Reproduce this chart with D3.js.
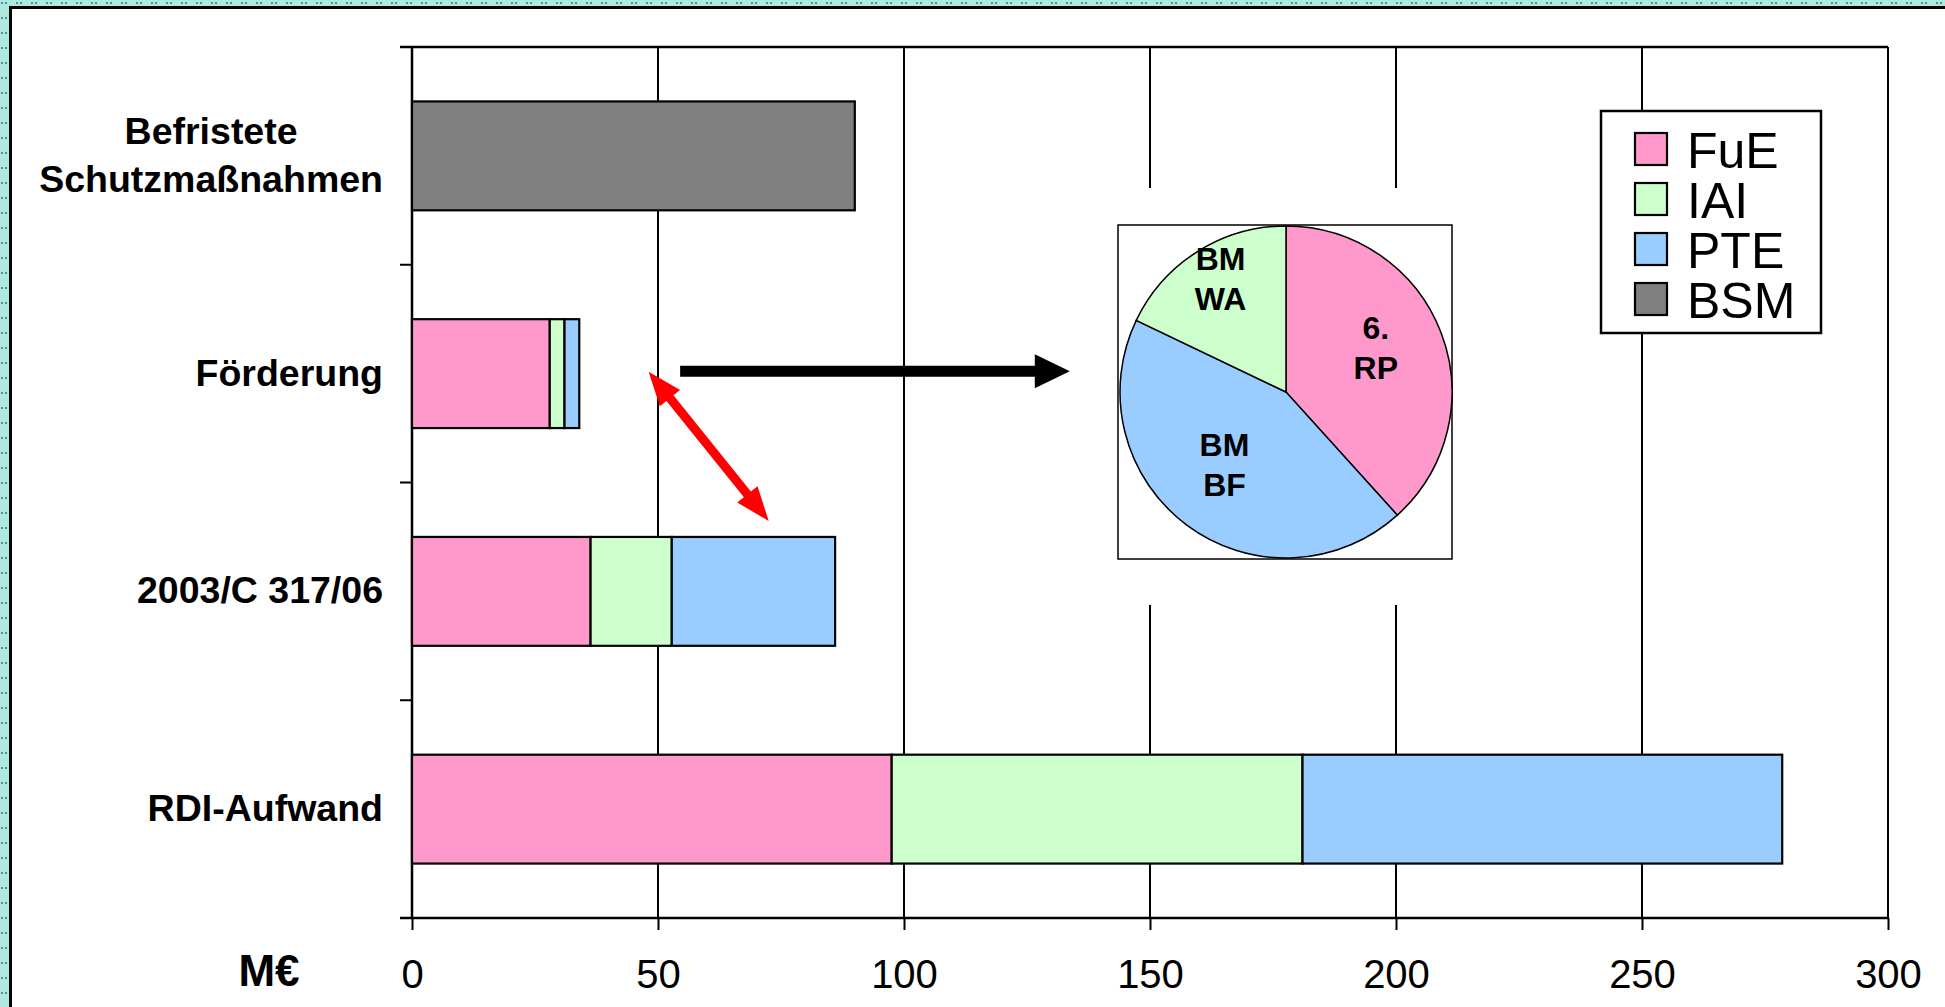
<!DOCTYPE html>
<html>
<head>
<meta charset="utf-8">
<script src="https://cdn.jsdelivr.net/npm/d3@7/dist/d3.min.js"></script>
<style>
html,body{margin:0;padding:0;background:#fff;overflow:hidden;}
svg{display:block;font-family:"Liberation Sans",Arial,sans-serif;}
</style>
</head>
<body>
<svg id="chart" width="1945" height="1007"></svg>
<script>
// ---- data ----
const categories = ["Befristete\nSchutzmaßnahmen", "Förderung", "2003/C 317/06", "RDI-Aufwand"];
const seriesNames = ["FuE", "IAI", "PTE", "BSM"];
const FuE = [0, 28, 36.3, 97.5];
const IAI = [0, 3, 16.5, 83.5];
const PTE = [0, 3, 33.2, 97.5];
const BSM = [90, 0, 0, 0];
const seriesColors = ["#ff99cc", "#ccffcc", "#99ccff", "#808080"];
const xTicks = [0, 50, 100, 150, 200, 250, 300];
const xUnit = "M€";
const pieLabels = [["6.", "RP"], ["BM", "BF"], ["BM", "WA"]];
const pieValues = [38.3, 43.8, 17.9];
const pieColors = ["#ff99cc", "#99ccff", "#ccffcc"];

const svg = d3.select("#chart");
const W = 1945, H = 1007;

// ---- background frame ----
const defs = svg.append("defs");
const pat = defs.append("pattern").attr("id", "dots").attr("patternUnits", "userSpaceOnUse")
  .attr("width", 15).attr("height", 15);
pat.append("rect").attr("width", 15).attr("height", 15).attr("fill", "#b0e8df");
pat.append("rect").attr("x", 1).attr("y", 2).attr("width", 2).attr("height", 2).attr("fill", "#3f9c9c");
pat.append("rect").attr("x", 5).attr("y", 2).attr("width", 2).attr("height", 2).attr("fill", "#3f9c9c");
svg.append("rect").attr("width", W).attr("height", H).attr("fill", "url(#dots)");
svg.append("rect").attr("x", 10.5).attr("y", 7.5).attr("width", W).attr("height", H).attr("fill", "#fff")
  .attr("stroke", "#000").attr("stroke-width", 3);

// ---- scales ----
const x = d3.scaleLinear().domain([0, 300]).range([412, 1888]);
const y = d3.scaleBand().domain(categories).range([47, 918]).paddingInner(0.5).paddingOuter(0.25);
const y0 = 47, y1 = 918;

// ---- gridlines ----
svg.append("g").selectAll("line").data(xTicks.filter(d => d > 0)).join("line")
  .attr("x1", d => x(d)).attr("x2", d => x(d)).attr("y1", y0).attr("y2", y1)
  .attr("stroke", "#000").attr("stroke-width", 2);

// top border line
svg.append("line").attr("x1", 400).attr("x2", x(300)).attr("y1", y0).attr("y2", y0)
  .attr("stroke", "#000").attr("stroke-width", 2.5);

// ---- bottom axis ----
const xAxis = d3.axisBottom(x).tickValues(xTicks).tickSize(12).tickSizeOuter(0).tickPadding(30)
  .tickFormat(d3.format("d"));
const gx = svg.append("g").attr("transform", `translate(0,${y1})`).call(xAxis);
gx.select(".domain").remove();
gx.append("line").attr("x1", 400).attr("x2", x(300)).attr("y1", 0).attr("y2", 0)
  .attr("stroke", "#000").attr("stroke-width", 2.5);
gx.selectAll(".tick line").attr("stroke", "#000").attr("stroke-width", 2);
gx.selectAll(".tick text").attr("font-size", 40).attr("fill", "#000")
  .attr("font-family", "'Liberation Sans', Arial, sans-serif").attr("dy", "0.71em");

svg.append("text").attr("x", 269).attr("y", 986).attr("text-anchor", "middle")
  .attr("font-size", 44).attr("font-weight", "bold").text(xUnit);

// ---- left axis ----
svg.append("line").attr("x1", x(0)).attr("x2", x(0)).attr("y1", y0).attr("y2", y1)
  .attr("stroke", "#000").attr("stroke-width", 2.5);
svg.append("g").selectAll("line").data(d3.range(categories.length + 1)).join("line")
  .attr("x1", 400).attr("x2", x(0))
  .attr("y1", i => y0 + i * (y1 - y0) / categories.length)
  .attr("y2", i => y0 + i * (y1 - y0) / categories.length)
  .attr("stroke", "#000").attr("stroke-width", 2);

// category labels
const catG = svg.append("g");
categories.forEach(c => {
  const lines = c.split("\n");
  const cy = y(c) + y.bandwidth() / 2;
  const lh = 47.6;
  const t = catG.append("text").attr("font-size", 37.5).attr("font-weight", "bold").attr("fill", "#000");
  if (lines.length === 1) {
    t.attr("x", 383).attr("y", cy + 12).attr("text-anchor", "end").text(lines[0]);
  } else {
    const tmp = catG.append("text").attr("font-size", 37.5).attr("font-weight", "bold").text(lines[1]);
    const wmax = d3.max(lines, l => { tmp.text(l); return tmp.node().getComputedTextLength(); });
    tmp.remove();
    const cx = 383 - wmax / 2;
    t.attr("text-anchor", "middle");
    lines.forEach((l, i) => {
      t.append("tspan").attr("x", cx).attr("y", cy + 12 + (i - (lines.length - 1) / 2) * lh).text(l);
    });
  }
});

// ---- stacked bars ----
const rows = categories.map((c, i) => ({cat: c, FuE: FuE[i], IAI: IAI[i], PTE: PTE[i], BSM: BSM[i]}));
const stacked = d3.stack().keys(seriesNames)(rows);
const barG = svg.append("g");
stacked.forEach((s, si) => {
  barG.append("g").selectAll("rect").data(s.filter(d => d[1] - d[0] > 0)).join("rect")
    .attr("x", d => x(d[0])).attr("width", d => x(d[1]) - x(d[0]))
    .attr("y", d => y(d.data.cat)).attr("height", y.bandwidth())
    .attr("fill", seriesColors[si]).attr("stroke", "#000").attr("stroke-width", 2.2);
});

// ---- legend ----
const lg = svg.append("g");
lg.append("rect").attr("x", 1601).attr("y", 111).attr("width", 220).attr("height", 222)
  .attr("fill", "#fff").attr("stroke", "#000").attr("stroke-width", 2.5);
seriesNames.forEach((n, i) => {
  const ly = 133 + i * 50;
  lg.append("rect").attr("x", 1635).attr("y", ly).attr("width", 32).attr("height", 32)
    .attr("fill", seriesColors[i]).attr("stroke", "#000").attr("stroke-width", 2.2);
  lg.append("text").attr("x", 1687).attr("y", ly + 34.5).attr("font-size", 50).attr("fill", "#000").text(n);
});

// ---- pie inset ----
const pg = svg.append("g");
pg.append("rect").attr("x", 1080).attr("y", 188).attr("width", 410).attr("height", 417).attr("fill", "#fff");
pg.append("rect").attr("x", 1118).attr("y", 225).attr("width", 334).attr("height", 334)
  .attr("fill", "#fff").attr("stroke", "#000").attr("stroke-width", 1.5);
const pcx = 1286, pcy = 392, pr = 166;
const pie = d3.pie().sort(null).value(d => d)(pieValues);
const arc = d3.arc().innerRadius(0).outerRadius(pr);
const labelR = [0.58, 0.62, 0.74];
const pieG = pg.append("g").attr("transform", `translate(${pcx},${pcy})`);
pieG.selectAll("path").data(pie).join("path").attr("d", arc)
  .attr("fill", (d, i) => pieColors[i]).attr("stroke", "#000").attr("stroke-width", 1.5);
pie.forEach((d, i) => {
  const la = d3.arc().innerRadius(pr * labelR[i]).outerRadius(pr * labelR[i]);
  const [lx, ly] = la.centroid(d);
  const t = pieG.append("text").attr("text-anchor", "middle").attr("font-size", 32).attr("font-weight", "bold");
  pieLabels[i].forEach((l, j) => {
    t.append("tspan").attr("x", lx).attr("y", ly - 18 + j * 40).text(l);
  });
});

// ---- arrows ----
function arrowPoly(xa, ya, xb, yb, shaft, headLen, headHalf, doubleHead) {
  const dx = xb - xa, dy = yb - ya, L = Math.hypot(dx, dy);
  const ux = dx / L, uy = dy / L, nx = -uy, ny = ux;
  const P = (t, s) => [xa + ux * t + nx * s, ya + uy * t + ny * s];
  const hs = shaft / 2;
  const pts = [];
  if (doubleHead) {
    pts.push(P(0, 0), P(headLen, headHalf), P(headLen, hs));
  } else {
    pts.push(P(0, hs));
  }
  pts.push(P(L - headLen, hs), P(L - headLen, headHalf), P(L, 0), P(L - headLen, -headHalf), P(L - headLen, -hs));
  if (doubleHead) {
    pts.push(P(headLen, -hs), P(headLen, -headHalf));
  } else {
    pts.push(P(0, -hs));
  }
  return pts.map(p => p.join(",")).join(" ");
}
const rowF = y("Förderung") + y.bandwidth() / 2;
svg.append("polygon").attr("points", arrowPoly(x(54.5), rowF - 2.5, x(133.7), rowF - 2.5, 11, 35, 17, false))
  .attr("fill", "#000");
svg.append("polygon").attr("points", arrowPoly(x(48.1), rowF - 2, x(72.5), y("2003/C 317/06") - 16, 9, 34, 13, true))
  .attr("fill", "#ff0000");
</script>
</body>
</html>
